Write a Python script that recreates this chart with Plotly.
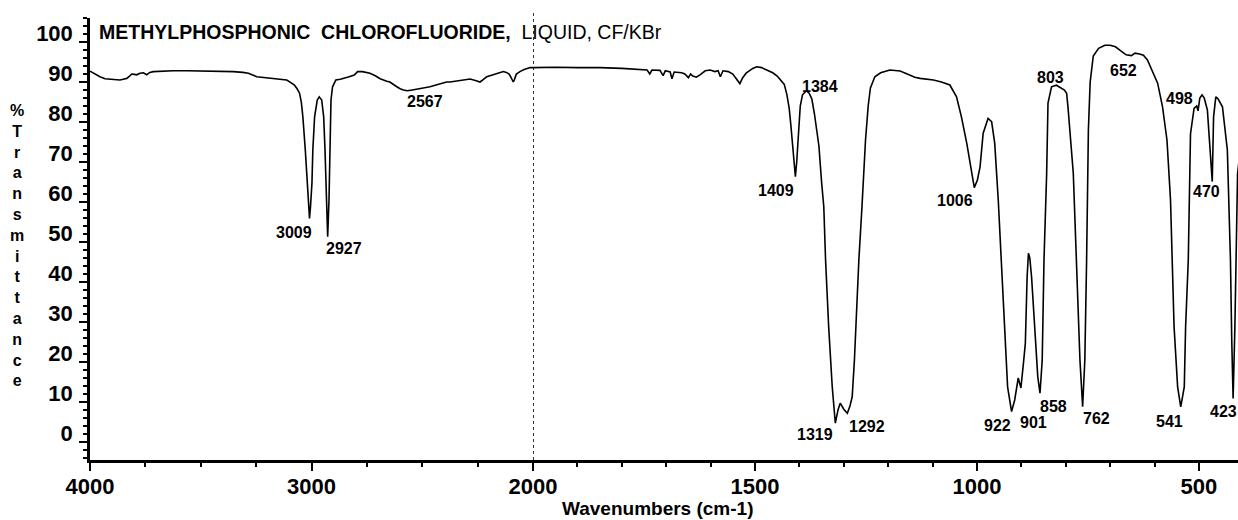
import plotly.graph_objects as go

# IR spectrum of methylphosphonic chlorofluoride (liquid film, KBr windows)
wavenumber = [
    4000, 3978, 3955, 3932, 3910, 3888, 3865, 3850, 3834, 3820, 3812, 3800, 3789, 3775,
    3759, 3744, 3730, 3714, 3680, 3654, 3624, 3560, 3503, 3430, 3353, 3310, 3285, 3247,
    3200, 3157, 3112, 3095, 3077, 3065, 3054, 3046, 3039, 3028, 3019, 3013.5, 3009,
    3004.5, 2998, 2994, 2986, 2974, 2965, 2954, 2945, 2939, 2935, 2930, 2927, 2921, 2917,
    2912, 2905, 2890, 2870, 2852, 2830, 2807, 2792, 2770, 2736, 2710, 2690, 2660, 2646,
    2620, 2600, 2585, 2567, 2545, 2525, 2510, 2490, 2465, 2430, 2390, 2375, 2330, 2300,
    2284, 2260, 2239, 2225, 2209, 2180, 2150, 2134, 2120, 2108, 2100, 2093, 2089, 2084,
    2075, 2059, 2040, 2013, 2000,
    1950, 1900, 1849, 1800, 1775, 1750, 1743, 1737, 1732, 1714, 1707, 1702, 1691, 1687,
    1682, 1665, 1658, 1650, 1645, 1640, 1632, 1624, 1612, 1601, 1590, 1583, 1578, 1572,
    1560, 1550, 1540, 1534, 1528, 1520, 1505, 1496, 1485, 1473, 1460, 1450, 1440, 1434,
    1428, 1423, 1419, 1415, 1412, 1409, 1406, 1403, 1398, 1393, 1388, 1384, 1378, 1372,
    1366, 1360, 1356, 1350, 1345, 1341, 1334, 1326, 1319, 1313, 1308, 1300, 1292, 1286,
    1281, 1276, 1270, 1266, 1259, 1251, 1245, 1240, 1230, 1217, 1196, 1173, 1157, 1140,
    1128, 1098, 1080, 1061, 1046, 1035, 1023, 1012, 1006, 999, 993, 986, 975, 967, 960,
    952, 945, 937, 931, 922, 915, 907, 901, 895, 891, 887, 884, 881, 877, 870, 863, 858,
    853, 849, 843, 840, 832, 821, 812, 803, 798, 795, 783, 776, 768, 762, 757, 753, 749,
    745, 738, 726, 712, 700, 688, 676, 664, 652, 644, 634, 625, 616, 606, 593, 582, 572,
    564, 560, 556, 548, 541, 533, 530, 524, 519, 511, 505, 502, 498, 493, 488, 481, 475,
    470, 467, 462, 457, 447, 436, 429, 426, 423, 419, 417, 415, 413, 410, 405, 400,
]
transmittance = [
    92.7, 92.0, 91.3, 90.8, 90.7, 90.6, 90.5, 90.7, 90.9, 91.5, 92.0, 91.9, 91.8, 92.2,
    92.3, 91.8, 92.4, 92.6, 92.7, 92.75, 92.8, 92.8, 92.75, 92.7, 92.6, 92.4, 92.2, 91.3,
    91.0, 90.8, 90.5, 89.9, 89.2, 88.3, 87.2, 85.0, 81.3, 73.0, 64.7, 58.8, 55.9,
    58.8, 64.7, 73.0, 81.3, 85.5, 86.3, 85.5, 81.3, 73.0, 64.7, 56.3, 51.3, 60.5, 73.0,
    85.5, 88.8, 90.5, 90.7, 90.9, 91.3, 91.75, 92.6, 92.6, 92.2, 91.5, 90.8, 90.2, 90.0,
    89.0, 88.3, 88.0, 87.8, 88.0, 88.2, 88.4, 88.6, 88.8, 89.4, 90.0, 90.0, 90.4, 90.7,
    90.75, 90.4, 90.0, 90.6, 91.3, 91.8, 92.3, 92.6, 92.4, 92.0, 91.2, 90.2, 90.0, 90.6,
    92.0, 92.6, 93.1, 93.6, 93.6,
    93.7, 93.6, 93.6, 93.4, 93.3, 93.1, 93.0, 92.0, 93.0, 92.9, 91.6, 92.8, 92.5, 90.8,
    92.5, 92.3, 92.0, 91.1, 92.0, 91.5, 91.2, 91.8, 92.8, 93.0, 92.6, 92.8, 91.3, 92.8,
    92.6, 92.0, 90.6, 89.6, 91.0, 92.2, 93.4, 93.8, 93.6, 93.0, 92.3, 91.5, 90.2, 89.4,
    86.8, 83.5, 79.0, 74.0, 69.5, 66.3, 70.0, 76.0, 84.0, 86.8, 87.4, 87.8, 87.2, 85.8,
    82.0, 77.0, 74.0, 65.0, 58.8, 45.5, 28.8, 13.8, 4.7, 8.0, 9.7, 8.2, 7.2, 9.0,
    11.3, 20.5, 37.2, 45.5, 58.8, 75.5, 84.0, 88.5, 91.3, 92.3, 93.0, 92.75, 92.0, 91.2,
    90.9, 90.5, 90.0, 89.25, 86.3, 81.3, 74.7, 67.2, 63.6, 65.5, 68.8, 77.2, 80.9, 80.1, 74.7,
    60.5, 45.5, 28.8, 13.8, 7.6, 10.5, 16.0, 13.5, 20.0, 24.7, 41.3, 47.2, 46.0, 41.3, 28.8, 16.3, 12.2,
    20.5, 45.5, 67.2, 84.7, 88.8, 89.2, 88.6, 88.0, 87.2, 83.8, 67.2, 45.5, 20.5, 8.8, 20.5, 45.5, 78.0,
    90.0, 96.5, 98.4, 99.2, 99.2, 98.8, 97.8, 96.8, 96.6, 97.2, 97.0, 96.7, 95.5, 93.0, 89.7, 83.8, 75.5,
    60.5, 45.5, 28.8, 13.8, 8.8, 13.8, 28.8, 45.5, 77.0, 83.4, 84.0, 82.8, 86.0, 86.8, 86.0, 83.0, 72.2,
    65.1, 81.3, 86.3, 85.8, 83.8, 73.0, 45.5, 25.0, 10.9, 28.8, 45.0, 62.0, 67.0, 70.0, 71.0, 71.5,
]

# wavenumbers printed beside the picked bands
peak_labels = [3009, 2927, 2567, 1409, 1384, 1319, 1292, 1006, 922, 901,
               858, 803, 762, 652, 541, 498, 470, 423]

# pixel offset of each band label from its band point (right, up)
label_offset = {
    3009: (-16, -14), 2927: (16, -12), 2567: (18, -11), 1409: (-19, -14),
    1384: (14, 4), 1319: (-20, -11), 1292: (20, -13), 1006: (-19, -13),
    922: (-14, -14), 901: (13, -34), 858: (13, -13), 803: (-14, 13),
    762: (14, -12), 652: (-8, -15), 541: (-11, -15), 498: (-20, 0),
    470: (-6, -10), 423: (-10, -13),
}

BREAK = 2000   # the abscissa is expanded 2x below this wavenumber
LOW_END = 412
FONT = "Liberation Sans, Arial, sans-serif"

hi_x = [w for w in wavenumber if w >= BREAK]
hi_y = [t for w, t in zip(wavenumber, transmittance) if w >= BREAK]
lo_x = [w for w in wavenumber if w <= BREAK]
lo_y = [t for w, t in zip(wavenumber, transmittance) if w <= BREAK]

line_style = dict(color="black", width=1.6)

fig = go.Figure()
fig.add_trace(go.Scatter(x=hi_x, y=hi_y, mode="lines", line=line_style,
                         xaxis="x", yaxis="y", showlegend=False))
fig.add_trace(go.Scatter(x=lo_x, y=lo_y, mode="lines", line=line_style,
                         xaxis="x2", yaxis="y", showlegend=False))

plot_w = 1238 - 90
split = (533 - 90) / plot_w

tick_font = dict(family=FONT, size=22, color="black", weight="bold")
x_common = dict(
    showline=True, linecolor="black", linewidth=3, showgrid=False, zeroline=False,
    ticks="outside", ticklen=8, tickwidth=2, tickcolor="black", tickfont=tick_font,
    ticklabelstandoff=-3, anchor="y", fixedrange=True,
)

fig.update_layout(
    width=1238, height=520,
    margin=dict(l=90, r=0, t=18, b=60, autoexpand=False),
    paper_bgcolor="white", plot_bgcolor="white",
    xaxis=dict(domain=[0, split], range=[4000, BREAK], tickmode="array",
               tickvals=[4000, 3000, 2000],
               minor=dict(tickmode="linear", tick0=0, dtick=250, ticks="outside",
                          ticklen=4, tickwidth=1.5, tickcolor="black"),
               **x_common),
    xaxis2=dict(domain=[split, 1], range=[BREAK, LOW_END], tickmode="array",
                tickvals=[1500, 1000, 500],
                minor=dict(tickmode="linear", tick0=0, dtick=100, ticks="outside",
                           ticklen=4, tickwidth=1.5, tickcolor="black"),
                **x_common),
    yaxis=dict(range=[-4.5, 106], tickmode="linear", tick0=0, dtick=10,
               showline=True, linecolor="black", linewidth=2.5, showgrid=False,
               zeroline=False, ticks="outside", ticklen=8, tickwidth=2,
               tickcolor="black", tickfont=tick_font, ticklabelshift=-9,
               ticklabelstandoff=2, anchor="x", fixedrange=True,
               minor=dict(tickmode="linear", tick0=0, dtick=2, ticks="outside",
                          ticklen=4, tickwidth=1.5, tickcolor="black")),
)

# dashed marker at the scale change
fig.add_shape(type="line", xref="x2", yref="paper", x0=BREAK, x1=BREAK, y0=0, y1=1.012,
              line=dict(color="black", width=1.6, dash="3px,3px"))

# band labels
t_at = dict(zip(wavenumber, transmittance))
for w in peak_labels:
    dx, dy = label_offset[w]
    fig.add_annotation(
        x=w, y=t_at[w], xref="x" if w > BREAK else "x2", yref="y",
        text=str(w), showarrow=False, xshift=dx, yshift=dy,
        font=dict(family=FONT, size=16, color="black", weight="bold"),
    )

# sample description
fig.add_annotation(
    x=7 / plot_w, y=(460 - 32) / 442, xref="paper", yref="paper",
    xanchor="left", yanchor="middle", showarrow=False,
    text="<b>METHYLPHOSPHONIC\u00a0\u00a0CHLOROFLUORIDE,</b>\u00a0\u00a0LIQUID, CF/KBr",
    font=dict(family=FONT, size=19.5, color="black"),
)

# axis titles
fig.add_annotation(
    x=(17 - 90) / plot_w, y=(460 - 246) / 442, xref="paper", yref="paper",
    xanchor="center", yanchor="middle", showarrow=False,
    text="<br>".join("%Transmittance"),
    font=dict(family=FONT, size=16, color="black", weight="bold"),
)
fig.add_annotation(
    x=(657 - 90) / plot_w, y=(460 - 508) / 442, xref="paper", yref="paper",
    xanchor="center", yanchor="middle", showarrow=False,
    text="Wavenumbers (cm-1)",
    font=dict(family=FONT, size=19, color="black", weight="bold"),
)

fig.write_html("out.html")
